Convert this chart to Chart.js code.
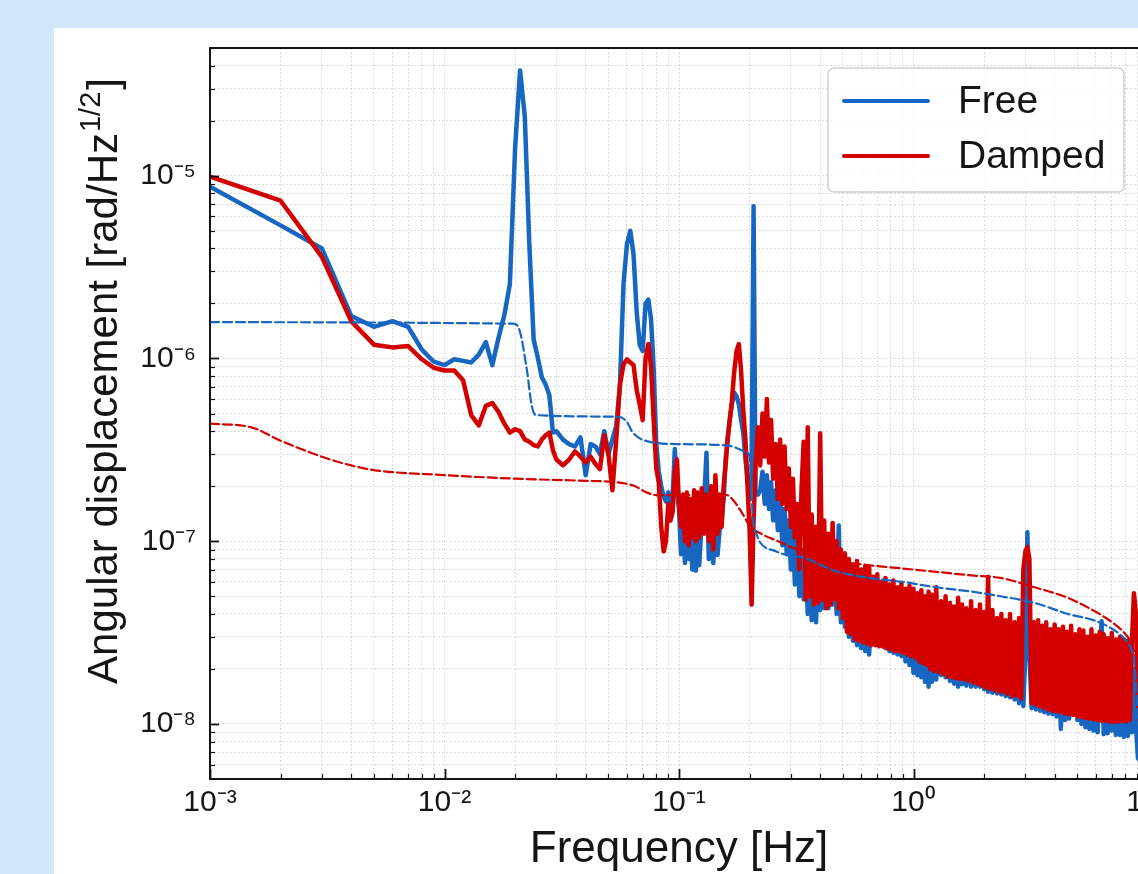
<!DOCTYPE html>
<html lang="en">
<head>
<meta charset="UTF-8"/>
<title>Angular displacement spectrum – Free vs Damped</title>
<script src="https://cdn.jsdelivr.net/npm/chart.js@4"></script>
<style>
  html, body { margin:0; padding:0; overflow:hidden; }
  body { background:#d3e7fb; width:1138px; height:874px; position:relative; }
  .panel { position:absolute; left:54px; top:28px; width:1200px; height:900px; background:#fff; }
  #chart { position:absolute; left:0; top:0; }
</style>
</head>
<body>
<div class="panel"></div>
<canvas id="chart" width="1200" height="900"></canvas>

<script>
  // frequency bins shared by both measured spectra [Hz]
  const freq = [
    0.001,0.002,0.003,0.004,0.005,0.006,0.007,0.008,0.009,0.010,
    0.011,0.012,0.013,0.014,0.015,0.016,0.017,0.018,0.019,0.020,
    0.021,0.022,0.023,0.024,0.025,0.026,0.027,0.028,0.029,0.030,
    0.032,0.034,0.036,0.038,0.040,0.042,0.044,0.046,0.048,0.050,0.052,0.054,0.056,0.058,0.060,
    0.062,0.064,0.066,0.068,0.070,0.072,0.074,0.076,0.078,0.080,
    0.082,0.084,0.086,0.088,0.090,0.092,0.094,0.096,0.098,
    // 0.1 - 1 Hz
    0.100,0.102,0.104,0.106,0.108,0.110,0.112,0.114,0.116,0.118,
    0.120,0.122,0.125,0.128,0.131,0.134,0.137,0.140,0.143,0.146,
    0.149,0.152,0.155,0.158,0.161,0.164,0.168,0.172,0.176,0.180,
    0.184,0.188,0.192,0.196,0.200,0.204,0.208,0.212,0.217,0.222,
    0.227,0.232,0.237,0.242,0.247,0.252,0.258,0.264,0.270,0.276,
    0.282,0.288,0.294,0.300,0.306,0.312,0.319,0.326,0.333,0.340,
    0.347,0.354,0.361,0.368,0.376,0.384,0.392,0.400,0.408,0.416,
    0.425,0.434,0.443,0.452,0.461,0.470,0.480,0.490,0.500,0.510,
    0.520,0.530,0.541,0.552,0.563,0.574,0.586,0.598,0.610,0.622,
    0.634,0.647,0.660,0.673,0.687,0.701,0.715,0.729,0.744,0.759,
    0.774,0.789,0.805,0.821,0.837,0.854,0.871,0.888,0.906,0.924,
    0.942,0.961,0.980,
    // 1 - 10 Hz
    1.00,1.02,1.04,1.06,1.08,1.10,1.12,1.14,1.16,1.18,
    1.20,1.22,1.25,1.28,1.31,1.34,1.37,1.40,1.43,1.46,
    1.49,1.52,1.55,1.58,1.61,1.64,1.68,1.72,1.76,1.80,
    1.84,1.88,1.92,1.96,2.00,2.04,2.08,2.12,2.17,2.22,
    2.27,2.32,2.37,2.42,2.47,2.52,2.58,2.64,2.70,2.76,
    2.82,2.88,2.94,3.00,3.06,3.12,3.19,3.26,3.33,3.40,
    3.47,3.54,3.61,3.68,3.76,3.84,3.92,4.00,4.08,4.16,
    4.25,4.34,4.43,4.52,4.61,4.70,4.80,4.90,5.00,5.10,
    5.20,5.30,5.41,5.52,5.63,5.74,5.86,5.98,6.10,6.22,
    6.34,6.47,6.60,6.73,6.87,7.01,7.15,7.29,7.44,7.59,
    7.74,7.89,8.05,8.21,8.37,8.54,8.71,8.88,9.06,9.24,
    9.42
  ];

  // measured spectrum, free pendulum [rad/Hz^1/2]
  const freeAmp = [
    8.7e-6,5.35e-6,4.0e-6,1.71e-6,1.49e-6,1.60e-6,1.49e-6,1.12e-6,9.6e-7,9.2e-7,
    9.9e-7,9.7e-7,9.5e-7,1.05e-6,1.23e-6,9.2e-7,1.3e-6,1.73e-6,2.55e-6,1.41e-5,
    3.77e-5,2.11e-5,4.24e-6,1.27e-6,1.01e-6,7.9e-7,7.2e-7,6.3e-7,3.93e-7,4.0e-7,
    3.6e-7,3.4e-7,3.3e-7,3.7e-7,2.3e-7,3.4e-7,3.3e-7,3.0e-7,4.0e-7,3.0e-7,3.6e-7,4.3e-7,7.2e-7,2.57e-6,4.24e-6,
    5.0e-6,3.7e-6,1.8e-6,1.19e-6,1.1e-6,2.0e-6,2.1e-6,1.64e-6,8.7e-7,3.4e-7,
    2.4e-7,2.0e-7,1.75e-7,1.65e-7,1.85e-7,1.45e-7,1.8e-7,3.2e-7,1.9e-7,
    // 0.1 - 1 Hz
    1.5e-7,8.5e-8,1.3e-7,7.6e-8,1.2e-7,8.0e-8,1.1e-7,7.0e-8,1.2e-7,6.9e-8,
    1.1e-7,7.4e-8,1.3e-7,1.68e-7,3.05e-7,8.0e-8,1.1e-7,7.6e-8,1.2e-7,8.4e-8,
    1.15e-7,1.3e-7,1.7e-7,2.8e-7,3.5e-7,4.5e-7,5.6e-7,6.5e-7,6.2e-7,5.6e-7,
    4.6e-7,3.9e-7,2.8e-7,2.2e-7,1.7e-7,2.3e-7,6.8e-6,1.9e-7,1.8e-7,1.9e-7,
    2.4e-7,1.6e-7,2.3e-7,1.5e-7,2.1e-7,1.3e-7,1.9e-7,1.15e-7,1.7e-7,9.5e-8,
    1.5e-7,8.5e-8,1.3e-7,7.0e-8,1.2e-7,5.8e-8,1.0e-7,5.0e-8,9.0e-8,4.8e-8,
    8.0e-8,4.0e-8,7.6e-8,3.7e-8,7.2e-8,3.6e-8,7.6e-8,4.2e-8,6.9e-8,4.3e-8,
    7.0e-8,4.3e-8,8.0e-8,4.5e-8,9.6e-8,4.0e-8,1.22e-7,3.6e-8,6.5e-8,3.4e-8,
    5.4e-8,3.0e-8,5.2e-8,2.85e-8,5.0e-8,2.7e-8,5.0e-8,2.6e-8,4.8e-8,2.5e-8,
    4.8e-8,2.4e-8,4.8e-8,2.8e-8,4.5e-8,2.7e-8,4.6e-8,2.95e-8,4.5e-8,2.6e-8,
    4.3e-8,2.5e-8,4.4e-8,2.45e-8,4.2e-8,2.4e-8,4.3e-8,2.35e-8,4.1e-8,2.2e-8,
    4.1e-8,2.1e-8,4.0e-8,
    // 1 - 10 Hz
    1.9e-8,3.9e-8,1.85e-8,3.6e-8,1.8e-8,3.5e-8,1.7e-8,3.5e-8,1.6e-8,3.4e-8,
    1.7e-8,3.3e-8,1.75e-8,3.3e-8,1.85e-8,3.2e-8,1.8e-8,3.1e-8,1.72e-8,3.1e-8,
    1.66e-8,3.05e-8,1.6e-8,3.0e-8,1.65e-8,3.0e-8,1.62e-8,2.9e-8,1.6e-8,2.9e-8,
    1.6e-8,2.85e-8,1.6e-8,2.85e-8,1.55e-8,2.9e-8,1.5e-8,2.9e-8,1.48e-8,2.85e-8,
    1.47e-8,2.85e-8,1.45e-8,2.8e-8,1.42e-8,2.8e-8,1.4e-8,2.75e-8,1.36e-8,2.7e-8,
    1.3e-8,2.6e-8,1.25e-8,2.5e-8,1.12e-7,2.4e-8,1.22e-8,2.45e-8,1.2e-8,2.45e-8,
    1.18e-8,2.4e-8,1.16e-8,2.4e-8,1.14e-8,2.35e-8,1.13e-8,2.35e-8,1.1e-8,2.3e-8,
    9.4e-9,2.3e-8,1.05e-8,2.27e-8,1.07e-8,2.25e-8,1.13e-8,2.25e-8,1.05e-8,2.22e-8,
    1.0e-8,2.2e-8,9.6e-9,2.2e-8,9.4e-9,2.17e-8,9.2e-9,2.15e-8,9.0e-9,2.14e-8,
    3.65e-8,8.8e-9,2.1e-8,8.9e-9,2.1e-8,9.2e-9,2.09e-8,8.7e-9,2.08e-8,8.7e-9,
    2.07e-8,8.5e-9,2.04e-8,8.6e-9,2.0e-8,9.0e-9,2.0e-8,9.8e-9,6.5e-9,6.3e-9,
    6.3e-9
  ];

  // measured spectrum, damped pendulum [rad/Hz^1/2]
  const dampedAmp = [
    9.9e-6,7.3e-6,3.6e-6,1.6e-6,1.19e-6,1.15e-6,1.17e-6,9.9e-7,8.9e-7,8.6e-7,
    8.6e-7,7.6e-7,4.9e-7,4.3e-7,5.5e-7,5.7e-7,5.1e-7,4.4e-7,3.93e-7,4.1e-7,
    4.0e-7,3.6e-7,3.5e-7,3.36e-7,3.3e-7,3.6e-7,3.8e-7,3.93e-7,3.15e-7,2.8e-7,
    2.6e-7,2.8e-7,3.1e-7,2.9e-7,2.7e-7,2.9e-7,2.65e-7,2.48e-7,3.8e-7,3.0e-7,1.9e-7,3.6e-7,7.2e-7,9.3e-7,9.9e-7,
    9.5e-7,9.2e-7,6.7e-7,5.6e-7,4.6e-7,1.0e-6,1.2e-6,9.0e-7,4.6e-7,2.5e-7,
    2.1e-7,1.2e-7,8.8e-8,1.0e-7,1.6e-7,1.3e-7,1.45e-7,2.4e-7,2.8e-7,
    // 0.1 - 1 Hz
    1.6e-7,1.2e-7,1.8e-7,1.0e-7,1.85e-7,9.5e-8,1.7e-7,1.05e-7,1.9e-7,1.0e-7,
    1.85e-7,1.05e-7,1.95e-7,1.1e-7,1.8e-7,1.0e-7,2.0e-7,9.0e-8,2.3e-7,1.1e-7,
    1.8e-7,1.2e-7,2.0e-7,2.6e-7,3.6e-7,4.4e-7,5.8e-7,8.5e-7,1.1e-6,1.2e-6,
    8.5e-7,5.2e-7,3.6e-7,2.0e-7,1.15e-7,4.5e-8,1.3e-7,2.6e-7,4.2e-7,2.6e-7,
    5.0e-7,2.9e-7,6.0e-7,2.7e-7,4.6e-7,2.2e-7,3.4e-7,1.7e-7,3.6e-7,1.6e-7,
    3.3e-7,1.5e-7,2.5e-7,1.2e-7,2.2e-7,1.05e-7,1.6e-7,7.0e-8,1.9e-7,3.5e-7,
    4.8e-8,4.2e-7,5.0e-8,1.4e-7,4.5e-8,1.2e-7,4.6e-8,3.9e-7,4.8e-8,1.3e-7,
    4.3e-8,1.1e-7,4.5e-8,1.26e-7,4.8e-8,1.0e-7,4.3e-8,9.0e-8,3.8e-8,8.6e-8,
    3.2e-8,8.0e-8,3.1e-8,7.4e-8,2.9e-8,7.8e-8,2.85e-8,7.0e-8,2.8e-8,7.3e-8,
    2.75e-8,7.2e-8,2.7e-8,6.4e-8,2.7e-8,6.6e-8,2.66e-8,6.0e-8,2.65e-8,6.3e-8,
    2.6e-8,5.8e-8,2.55e-8,6.1e-8,2.5e-8,5.6e-8,2.5e-8,5.9e-8,2.45e-8,5.5e-8,
    2.4e-8,5.7e-8,2.35e-8,
    // 1 - 10 Hz
    5.5e-8,2.3e-8,5.2e-8,2.2e-8,5.4e-8,2.15e-8,5.0e-8,2.1e-8,5.3e-8,2.0e-8,
    5.1e-8,1.95e-8,5.6e-8,1.92e-8,4.7e-8,1.88e-8,5.0e-8,1.82e-8,4.6e-8,1.8e-8,
    4.4e-8,1.78e-8,4.9e-8,1.77e-8,4.5e-8,1.75e-8,4.3e-8,1.72e-8,4.7e-8,1.68e-8,
    4.2e-8,1.66e-8,4.5e-8,1.62e-8,4.1e-8,1.58e-8,6.4e-8,1.56e-8,4.2e-8,1.53e-8,
    3.8e-8,1.5e-8,4.0e-8,1.5e-8,3.7e-8,1.46e-8,4.0e-8,1.42e-8,3.6e-8,1.43e-8,
    3.8e-8,1.38e-8,7.0e-8,8.8e-8,9.3e-8,8.0e-8,1.3e-8,3.6e-8,1.27e-8,3.7e-8,
    1.25e-8,3.45e-8,1.22e-8,3.6e-8,1.2e-8,3.3e-8,1.18e-8,3.5e-8,1.17e-8,3.3e-8,
    1.16e-8,3.4e-8,1.14e-8,3.2e-8,1.13e-8,3.45e-8,1.12e-8,3.1e-8,1.1e-8,3.3e-8,
    1.09e-8,3.25e-8,1.08e-8,3.0e-8,1.07e-8,3.3e-8,1.06e-8,3.05e-8,1.05e-8,3.2e-8,
    1.04e-8,3.1e-8,1.04e-8,2.95e-8,1.03e-8,3.15e-8,1.03e-8,2.9e-8,1.03e-8,3.0e-8,
    1.04e-8,2.9e-8,1.03e-8,2.85e-8,1.05e-8,2.8e-8,5.2e-8,4.0e-8,1.3e-8,1.04e-8,
    1.04e-8
  ];

  // model curves (dashed)
  const freeModelFreq = [0.001,0.0196,0.0208,0.0225,0.0235,0.0245,0.055,0.060,0.063,0.067,0.075,0.10,0.16,0.18,0.195,0.20,
    0.207,0.215,0.22,0.26,0.30,0.33,0.46,0.64,0.89,1.25,1.77,2.35,3.28,4.56,6.0,7.34,8.02,8.51,8.77,9.03,9.3];
  const freeModelAmp = [1.58e-6,1.55e-6,1.45e-6,8.5e-7,5.6e-7,4.9e-7,4.8e-7,4.5e-7,4.0e-7,3.7e-7,3.5e-7,3.4e-7,3.35e-7,3.2e-7,3.05e-7,2.9e-7,
    1.3e-7,1.08e-7,1.0e-7,8.8e-8,8.3e-8,8.2e-8,6.9e-8,6.3e-8,6.0e-8,5.6e-8,5.3e-8,5.0e-8,4.6e-8,4.0e-8,3.66e-8,3.2e-8,2.88e-8,2.54e-8,2.1e-8,1.13e-8,6.3e-9];
  const dampedModelFreq = [0.001,0.0015,0.002,0.003,0.004,0.005,0.01,0.02,0.04,0.055,0.065,0.072,0.08,0.16,0.17,0.185,0.20,0.23,0.26,0.30,
    0.40,0.45,0.64,0.89,1.25,1.77,2.35,3.28,4.56,5.62,6.52,7.34,8.02,8.51,8.77,9.03,9.3];
  const dampedModelAmp = [4.4e-7,4.2e-7,3.55e-7,2.9e-7,2.6e-7,2.45e-7,2.3e-7,2.2e-7,2.14e-7,2.1e-7,2.0e-7,1.86e-7,1.79e-7,1.79e-7,1.68e-7,1.44e-7,1.22e-7,1.08e-7,1.01e-7,9.3e-8,
    8.2e-8,7.9e-8,7.4e-8,7.1e-8,6.8e-8,6.5e-8,6.3e-8,5.6e-8,4.9e-8,4.3e-8,3.85e-8,3.45e-8,3.1e-8,2.75e-8,2.4e-8,1.5e-8,8e-9];

  // axes
  const xMajor = [1e-3, 1e-2, 1e-1, 1, 10];
  const xTickLabels = ['10⁻³', '10⁻²', '10⁻¹', '10⁰', '10¹'];
  const yMajor = [1e-8, 1e-7, 1e-6, 1e-5];
  const yTickLabels = ['10⁻⁸', '10⁻⁷', '10⁻⁶', '10⁻⁵'];

  const FONT = '"Liberation Sans", Arial, Helvetica, sans-serif';
  const BLUE = '#1766c1';
  const RED = '#d40000';
  const INK = '#151515';

  // 1..9 x 10^n ticks between min and max
  function logTicks(min, max) {
    const out = [];
    for (let e = Math.floor(Math.log10(min)); e <= Math.ceil(Math.log10(max)); e++) {
      for (let k = 1; k < 10; k++) {
        const v = +(k * Math.pow(10, e)).toPrecision(6);
        if (v >= min * 0.999 && v <= max * 1.001) out.push({value: v, major: k === 1});
      }
    }
    return out;
  }
  function labelFor(v, majors, labels) {
    const i = majors.findIndex(m => Math.abs(Math.log10(m) - Math.log10(v)) < 1e-6);
    return i < 0 ? '' : labels[i];
  }
  const toXY = (xs, ys) => xs.map((x, i) => ({x, y: ys[i]}));

  // inward tick marks + frame, like the matplotlib axes
  const frame = {
    id: 'frame',
    afterDatasetsDraw(chart) {
      const {ctx, chartArea: a, scales: {x, y}} = chart;
      ctx.save();
      ctx.strokeStyle = INK;
      x.ticks.forEach(t => {
        const px = Math.round(x.getPixelForValue(t.value)) + 0.5;
        ctx.lineWidth = t.major ? 1.8 : 1.2;
        ctx.beginPath(); ctx.moveTo(px, a.bottom); ctx.lineTo(px, a.bottom - (t.major ? 10 : 5)); ctx.stroke();
      });
      y.ticks.forEach(t => {
        const py = Math.round(y.getPixelForValue(t.value)) + 0.5;
        ctx.lineWidth = t.major ? 1.8 : 1.2;
        ctx.beginPath(); ctx.moveTo(a.left, py); ctx.lineTo(a.left + (t.major ? 9 : 5), py); ctx.stroke();
      });
      ctx.lineWidth = 2;
      ctx.strokeRect(a.left, a.top, a.right - a.left, a.bottom - a.top);
      ctx.restore();
    }
  };

  // y title with superscript 1/2
  const yTitle = {
    id: 'yTitle',
    afterDraw(chart) {
      const ctx = chart.ctx;
      const main = 'Angular displacement [rad/Hz', sup = '1/2', tail = ']';
      ctx.save();
      ctx.translate(117, 381);
      ctx.rotate(-Math.PI / 2);
      ctx.fillStyle = INK;
      ctx.textBaseline = 'alphabetic';
      ctx.font = `42px ${FONT}`;
      const w1 = ctx.measureText(main).width, w3 = ctx.measureText(tail).width;
      ctx.font = `29px ${FONT}`;
      const w2 = ctx.measureText(sup).width;
      const x0 = -(w1 + w2 + w3 + 3) / 2;
      ctx.font = `42px ${FONT}`; ctx.fillText(main, x0, 0);
      ctx.font = `29px ${FONT}`; ctx.fillText(sup, x0 + w1 + 1, -17);
      ctx.font = `42px ${FONT}`; ctx.fillText(tail, x0 + w1 + w2 + 3, 0);
      ctx.restore();
    }
  };

  // boxed legend in the upper right corner
  const legendBox = {
    id: 'legendBox',
    afterDraw(chart) {
      const {ctx, chartArea: a} = chart;
      const items = chart.data.datasets.filter(d => !d.borderDash).reverse();
      const bx = a.right - 320, by = a.top + 20;
      ctx.save();
      ctx.beginPath();
      ctx.roundRect(bx, by, 296, 124, 6);
      ctx.fillStyle = 'rgba(255,255,255,0.82)';
      ctx.fill();
      ctx.strokeStyle = '#cfcfcf'; ctx.lineWidth = 1.5; ctx.stroke();
      items.forEach((d, i) => {
        const ly = by + 33 + i * 55;
        ctx.strokeStyle = d.borderColor; ctx.lineWidth = 4; ctx.lineCap = 'round';
        ctx.beginPath(); ctx.moveTo(bx + 16, ly); ctx.lineTo(bx + 100, ly); ctx.stroke();
        ctx.fillStyle = INK; ctx.font = `39px ${FONT}`; ctx.textBaseline = 'middle';
        ctx.fillText(d.label, bx + 130, ly + 1);
      });
      ctx.restore();
    }
  };

  new Chart(document.getElementById('chart'), {
    type: 'line',
    data: {
      datasets: [
        {label: 'Free model', data: toXY(freeModelFreq, freeModelAmp), borderColor: BLUE, borderWidth: 2.2,
         borderDash: [9, 4], cubicInterpolationMode: 'monotone', order: 0},
        {label: 'Damped model', data: toXY(dampedModelFreq, dampedModelAmp), borderColor: RED, borderWidth: 2.2,
         borderDash: [9, 4], cubicInterpolationMode: 'monotone', order: 1},
        {label: 'Damped', data: toXY(freq, dampedAmp), borderColor: RED, borderWidth: 4.5, order: 2},
        {label: 'Free', data: toXY(freq, freeAmp), borderColor: BLUE, borderWidth: 4.5, order: 3}
      ]
    },
    options: {
      responsive: false,
      devicePixelRatio: 1,
      animation: false,
      events: [],
      parsing: false,
      layout: {padding: {left: 0, top: 48, right: 52, bottom: 0}},
      elements: {
        point: {radius: 0},
        line: {tension: 0, fill: false, borderJoinStyle: 'round', borderCapStyle: 'round'}
      },
      plugins: {legend: {display: false}, tooltip: {enabled: false}},
      scales: {
        x: {
          type: 'logarithmic', min: 1e-3, max: 10,
          afterBuildTicks: s => { s.ticks = logTicks(1e-3, 10); },
          afterFit: s => { s.height = 121; },
          grid: {color: '#dadada', lineWidth: 1, drawTicks: false},
          border: {display: false, dash: [2, 2]},
          ticks: {autoSkip: false, maxRotation: 0, padding: 6, color: INK, font: {size: 30, family: FONT},
                  callback: v => labelFor(v, xMajor, xTickLabels)},
          title: {display: true, text: 'Frequency [Hz]', color: INK, font: {size: 44, family: FONT},
                  padding: {top: 0, bottom: 24}}
        },
        y: {
          type: 'logarithmic', min: 5e-9, max: 5e-5,
          afterBuildTicks: s => { s.ticks = logTicks(5e-9, 5e-5); },
          afterFit: s => { s.width = 210; },
          grid: {color: '#dadada', lineWidth: 1, drawTicks: false},
          border: {display: false, dash: [2, 2]},
          ticks: {autoSkip: false, padding: 14, color: INK, font: {size: 30, family: FONT},
                  callback: v => labelFor(v, yMajor, yTickLabels)}
        }
      }
    },
    plugins: [frame, yTitle, legendBox]
  });
</script>
</body>
</html>
